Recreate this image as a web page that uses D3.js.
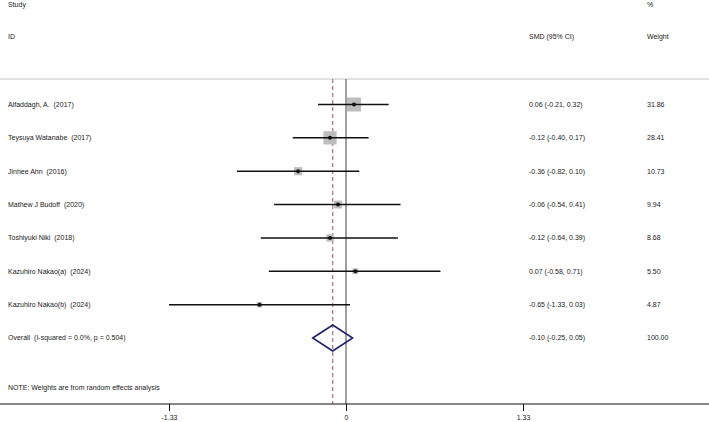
<!DOCTYPE html>
<html>
<head>
<meta charset="utf-8">
<script src="https://cdn.jsdelivr.net/npm/d3@7"></script>
<style>
  body { margin: 0; background: #fff; }
  svg text { font-family: Arial, "Liberation Sans", sans-serif; font-size: 7px; fill: #222; white-space: pre; }
</style>
</head>
<body>
<svg id="chart" width="709" height="422"></svg>
<script>
const studies = [
  "Alfaddagh, A.  (2017)",
  "Teysuya Watanabe  (2017)",
  "Jinhee Ahn  (2016)",
  "Mathew J Budoff  (2020)",
  "Toshiyuki Niki  (2018)",
  "Kazuhiro Nakao(a)  (2024)",
  "Kazuhiro Nakao(b)  (2024)"
];
const smd = [0.06, -0.12, -0.36, -0.06, -0.12, 0.07, -0.65];
const lower = [-0.21, -0.40, -0.82, -0.54, -0.64, -0.58, -1.33];
const upper = [0.32, 0.17, 0.10, 0.41, 0.39, 0.71, 0.03];
const weights = [31.86, 28.41, 10.73, 9.94, 8.68, 5.50, 4.87];

const overallLabel = "Overall  (I-squared = 0.0%, p = 0.504)";
const overall = { est: -0.10, lo: -0.25, hi: 0.05, weight: 100.00 };
const tickValues = [-1.33, 0, 1.33];
const note = "NOTE: Weights are from random effects analysis";

const W = 709, H = 422;
const svg = d3.select("#chart");

const x = d3.scaleLinear().domain([-1.33, 1.33]).range([169, 523]);
const rows = studies.concat([overallLabel]);
const y = d3.scalePoint().domain(rows).range([104.5, 338]);
const boxSize = d3.scaleSqrt().domain([0, d3.max(weights)]).range([0, 14]);

const topY = 79, axisY = 404;
// plain hyphen for negatives, like the original
const fmt = v => d3.format(".2f")(v).replace("\u2212", "-");
const ciText = (e, l, h) => `${fmt(e)} (${fmt(l)}, ${fmt(h)})`;

// headers
svg.append("text").attr("x", 8).attr("y", 5).attr("dy", "0.35em").text("Study");
svg.append("text").attr("x", 8).attr("y", 37).attr("dy", "0.35em").text("ID");
svg.append("text").attr("x", 529).attr("y", 37).attr("dy", "0.35em").text("SMD (95% CI)");
svg.append("text").attr("x", 647).attr("y", 5).attr("dy", "0.35em").text("%");
svg.append("text").attr("x", 647).attr("y", 37).attr("dy", "0.35em").text("Weight");

// top rule
svg.append("line")
  .attr("x1", 0).attr("x2", W).attr("y1", topY).attr("y2", topY)
  .attr("stroke", "#c4c4c4").attr("stroke-width", 1);

// null line
svg.append("line")
  .attr("x1", x(0)).attr("x2", x(0)).attr("y1", topY).attr("y2", axisY)
  .attr("stroke", "#444").attr("stroke-width", 1);

// overall dashed line
svg.append("line")
  .attr("x1", x(overall.est)).attr("x2", x(overall.est)).attr("y1", topY).attr("y2", axisY)
  .attr("stroke", "#a8707a").attr("stroke-width", 1.2).attr("stroke-dasharray", "4,3");

// study rows
const g = svg.append("g");
studies.forEach((s, i) => {
  const cy = y(s);
  const sz = boxSize(weights[i]);
  g.append("rect")
    .attr("x", x(smd[i]) - sz / 2).attr("y", cy - sz / 2)
    .attr("width", sz).attr("height", sz)
    .attr("fill", "#bdbdbd");
  g.append("line")
    .attr("x1", x(lower[i])).attr("x2", x(upper[i])).attr("y1", cy).attr("y2", cy)
    .attr("stroke", "#111").attr("stroke-width", 1.5);
  g.append("circle")
    .attr("cx", x(smd[i])).attr("cy", cy).attr("r", 2).attr("fill", "#111");
  g.append("text").attr("x", 8).attr("y", cy).attr("dy", "0.35em").text(s);
  g.append("text").attr("x", 529).attr("y", cy).attr("dy", "0.35em").text(ciText(smd[i], lower[i], upper[i]));
  g.append("text").attr("x", 647).attr("y", cy).attr("dy", "0.35em").text(fmt(weights[i]));
});

// overall diamond
const oy = y(overallLabel);
svg.append("path")
  .attr("d", `M${x(overall.lo)},${oy} L${x(overall.est)},${oy - 13} L${x(overall.hi)},${oy} L${x(overall.est)},${oy + 13} Z`)
  .attr("fill", "none").attr("stroke", "#1c1c6b").attr("stroke-width", 1.5);
svg.append("text").attr("x", 8).attr("y", oy).attr("dy", "0.35em").text(overallLabel);
svg.append("text").attr("x", 529).attr("y", oy).attr("dy", "0.35em").text(ciText(overall.est, overall.lo, overall.hi));
svg.append("text").attr("x", 647).attr("y", oy).attr("dy", "0.35em").text(fmt(overall.weight));

svg.append("text").attr("x", 8).attr("y", 388).attr("dy", "0.35em").text(note);

// axis
const axis = svg.append("g")
  .attr("transform", `translate(0,${axisY})`)
  .call(d3.axisBottom(x).tickValues(tickValues).tickSize(7).tickPadding(4)
    .tickFormat(d => d === 0 ? "0" : fmt(d)));
axis.select(".domain").remove();
axis.selectAll(".tick line").attr("stroke", "#111");
axis.selectAll("text").style("font-size", "7px").attr("fill", "#222")
  .style("font-family", "Arial, 'Liberation Sans', sans-serif");
svg.append("line")
  .attr("x1", 0).attr("x2", W).attr("y1", axisY).attr("y2", axisY)
  .attr("stroke", "#111").attr("stroke-width", 1);
</script>
</body>
</html>
